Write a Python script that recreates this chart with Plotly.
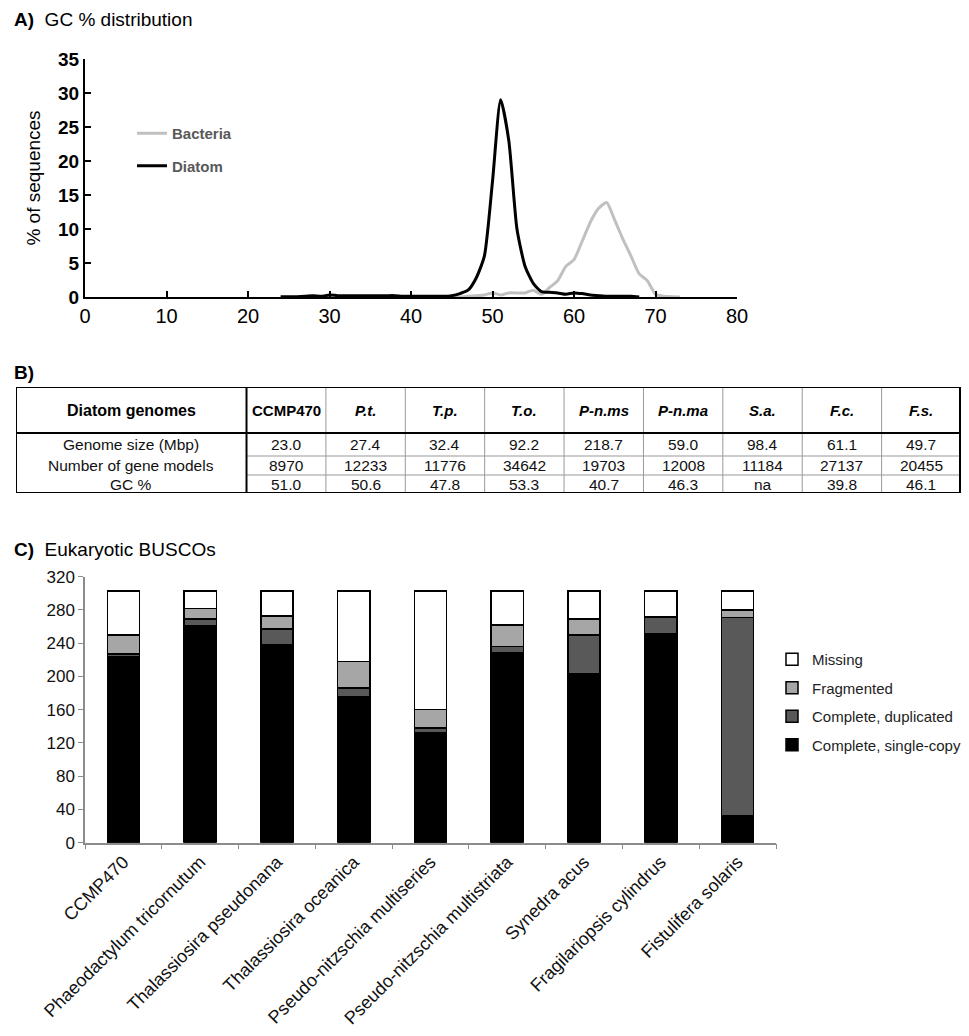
import plotly.graph_objects as go

# ---------------- Panel A data ----------------
diatom_gc = list(range(24, 69))
diatom_pct = [0.05, 0.05, 0.05, 0.1, 0.2, 0.1, 0.3, 0.2, 0.2, 0.2, 0.2, 0.2, 0.2, 0.2, 0.2,
              0.1, 0.1, 0.1, 0.1, 0.1, 0.1, 0.2, 0.5, 1.0, 2.8, 6.0, 17.0, 29.0, 23.0, 10.0,
              4.5, 2.0, 0.8, 0.7, 0.6, 0.4, 0.6, 0.5, 0.3, 0.2, 0.1, 0.1, 0.1, 0.1, 0.0]
bacteria_gc = list(range(45, 74))
bacteria_pct = [0.0, 0.0, 0.1, 0.2, 0.3, 0.6, 0.3, 0.6, 0.6, 0.6, 1.0, 0.4, 1.4, 2.4, 4.5,
                5.5, 8.2, 11.0, 13.0, 13.9, 11.3, 8.5, 6.0, 3.4, 2.4, 0.4, 0.1, 0.05, 0.0]

# ---------------- Panel B data ----------------
table_header = ["Diatom genomes", "CCMP470", "P.t.", "T.p.", "T.o.", "P-n.ms", "P-n.ma",
                "S.a.", "F.c.", "F.s."]
row_labels = ["Genome size (Mbp)", "Number of gene models", "GC %"]
genome_size = ["23.0", "27.4", "32.4", "92.2", "218.7", "59.0", "98.4", "61.1", "49.7"]
gene_models = ["8970", "12233", "11776", "34642", "19703", "12008", "11184", "27137", "20455"]
gc_percent = ["51.0", "50.6", "47.8", "53.3", "40.7", "46.3", "na", "39.8", "46.1"]

# ---------------- Panel C data ----------------
species = ["CCMP470", "Phaeodactylum tricornutum", "Thalassiosira pseudonana",
           "Thalassiosira oceanica", "Pseudo-nitzschia multiseries",
           "Pseudo-nitzschia multistriata", "Synedra acus", "Fragilariopsis cylindrus",
           "Fistulifera solaris"]
single_copy = [224, 261, 238, 176, 132, 229, 203, 251, 32]
duplicated = [3, 8, 19, 10, 6, 7, 47, 20, 239]
fragmented = [23, 13, 16, 32, 22, 26, 19, 1, 9]
missing = [53, 21, 30, 85, 143, 41, 34, 31, 23]

# page is 969x1036 and the html body has an 8px margin
OFF = 8
W, H = 969 - 2 * OFF, 1036 - 2 * OFF
FONT = "Arial, Liberation Sans, sans-serif"


def px(x):
    return min(1.0, max(0.0, (x - OFF) / W))


def py(y):
    return min(1.0, max(0.0, 1 - (y - OFF) / H))


fig = go.Figure()

# Panel A traces
fig.add_trace(go.Scatter(x=bacteria_gc, y=bacteria_pct, mode="lines", name="Bacteria",
                         line=dict(color="#c0c0c0", width=3, shape="spline", smoothing=0.6),
                         xaxis="x", yaxis="y", legend="legend2", legendgroup="b"))
fig.add_trace(go.Scatter(x=diatom_gc, y=diatom_pct, mode="lines", name="Diatom",
                         line=dict(color="#000000", width=3, shape="spline", smoothing=0.6),
                         xaxis="x", yaxis="y", legend="legend2", legendgroup="d"))

# Panel C traces
bar_series = [("Complete, single-copy", single_copy, "#000000", 4),
              ("Complete, duplicated", duplicated, "#595959", 3),
              ("Fragmented", fragmented, "#a6a6a6", 2),
              ("Missing", missing, "#ffffff", 1)]
for name, vals, col, rank in bar_series:
    fig.add_trace(go.Bar(x=species, y=vals, name=name,
                         marker=dict(color=col, line=dict(color="#000000", width=1.5)),
                         xaxis="x2", yaxis="y2", legend="legend", legendgroup=name,
                         legendrank=rank))

# dummy trace for table axes
fig.add_trace(go.Scatter(x=[], y=[], xaxis="x3", yaxis="y3", showlegend=False))

# ---------------- Table (panel B) ----------------
first_w = 231
col_w = (947 - first_w) / 9
head_h = 46
row_h = [23, 19, 18]
total_h = head_h + sum(row_h)
col_edges = [0, first_w] + [first_w + col_w * (i + 1) for i in range(9)]
row_edges = [0, head_h]
for h in row_h:
    row_edges.append(row_edges[-1] + h)

shapes = []
for xe in col_edges[2:-1]:
    shapes.append(dict(type="line", xref="x3", yref="y3", x0=xe, x1=xe, y0=0, y1=total_h,
                       line=dict(color="#999999", width=1)))
for ye in row_edges[2:-1]:
    shapes.append(dict(type="line", xref="x3", yref="y3", x0=first_w, x1=947, y0=ye, y1=ye,
                       line=dict(color="#999999", width=1)))
shapes.append(dict(type="line", xref="x3", yref="y3", x0=first_w, x1=first_w, y0=0, y1=total_h,
                   line=dict(color="#000000", width=2)))
shapes.append(dict(type="line", xref="x3", yref="y3", x0=0, x1=947, y0=head_h, y1=head_h,
                   line=dict(color="#000000", width=2)))
shapes.append(dict(type="rect", xref="x3", yref="y3", x0=0, x1=946, y0=0, y1=total_h,
                   line=dict(color="#000000", width=2)))

annotations = []
for i, h in enumerate(table_header):
    cx = (col_edges[i] + col_edges[i + 1]) / 2
    txt = f"<b>{h}</b>" if i <= 1 else f"<b><i>{h}</i></b>"
    annotations.append(dict(x=cx, y=head_h / 2, xref="x3", yref="y3", text=txt, showarrow=False,
                            font=dict(family=FONT, size=16 if i == 0 else 15, color="#000000")))
rows = [genome_size, gene_models, gc_percent]
for r, (lab, vals) in enumerate(zip(row_labels, rows)):
    cy = (row_edges[r + 1] + row_edges[r + 2]) / 2
    annotations.append(dict(x=first_w / 2, y=cy, xref="x3", yref="y3", text=lab, showarrow=False,
                            font=dict(family=FONT, size=15.5, color="#111111")))
    for c, v in enumerate(vals):
        cx = (col_edges[c + 1] + col_edges[c + 2]) / 2
        annotations.append(dict(x=cx, y=cy, xref="x3", yref="y3", text=v, showarrow=False,
                                font=dict(family=FONT, size=15.5, color="#111111")))

# Panel titles
annotations.append(dict(x=px(12), y=py(20), xref="paper", yref="paper", xanchor="left", yanchor="middle",
                        text="<b>A)</b>  GC % distribution", showarrow=False,
                        font=dict(family=FONT, size=19, color="#000000")))
annotations.append(dict(x=px(12), y=py(372), xref="paper", yref="paper", xanchor="left", yanchor="middle",
                        text="<b>B)</b>", showarrow=False, font=dict(family=FONT, size=19, color="#000000")))
annotations.append(dict(x=px(12), y=py(549), xref="paper", yref="paper", xanchor="left", yanchor="middle",
                        text="<b>C)</b>  Eukaryotic BUSCOs", showarrow=False,
                        font=dict(family=FONT, size=19, color="#000000")))

fig.update_layout(
    width=W, height=H, margin=dict(l=0, r=0, t=0, b=0, autoexpand=False),
    paper_bgcolor="white", plot_bgcolor="white",
    font=dict(family=FONT, color="#000000"),
    barmode="stack", bargap=0.58,
    shapes=shapes, annotations=annotations,
    xaxis=dict(domain=[px(85), px(737)], range=[0, 80], tickvals=list(range(0, 81, 10)),
               showline=True, linecolor="#000000", linewidth=2, ticks="inside", ticklen=6,
               tickwidth=2, tickcolor="#000000", showgrid=False, zeroline=False, automargin=False,
               tickfont=dict(family=FONT, size=20, color="#000000"), anchor="y"),
    yaxis=dict(domain=[py(297), py(59)], range=[0, 35], tickvals=list(range(0, 36, 5)),
               showline=True, linecolor="#000000", linewidth=2, ticks="inside", ticklen=6,
               tickwidth=2, tickcolor="#000000", showgrid=False, zeroline=False, automargin=False,
               tickfont=dict(family=FONT, size=19, color="#000000", weight="bold"),
               title=dict(text="% of sequences", font=dict(family=FONT, size=19), standoff=12),
               anchor="x"),
    xaxis2=dict(domain=[px(85), px(776)], showline=True, linecolor="#8c8c8c", linewidth=1.5,
                ticks="outside", tickson="boundaries", ticklen=5, tickcolor="#8c8c8c",
                showgrid=False, tickangle=-45, automargin=False,
                tickfont=dict(family=FONT, size=18, color="#111111"), anchor="y2"),
    yaxis2=dict(domain=[py(842.7), py(576.7)], range=[0, 320], tickvals=list(range(0, 321, 40)),
                showline=True, linecolor="#8c8c8c", linewidth=1.5, ticks="outside", ticklen=5,
                tickcolor="#8c8c8c", showgrid=False, zeroline=False, automargin=False,
                tickfont=dict(family=FONT, size=17, color="#111111"), anchor="x2"),
    xaxis3=dict(domain=[px(16), px(962)], range=[0, 947], visible=False, fixedrange=True,
                automargin=False, anchor="y3"),
    yaxis3=dict(domain=[py(493), py(387)], range=[total_h, 0], visible=False, fixedrange=True,
                automargin=False, anchor="x3"),
    legend=dict(x=px(772), y=py(702), xanchor="left", yanchor="middle", traceorder="grouped",
                tracegroupgap=6, font=dict(family=FONT, size=15, color="#222222"),
                bgcolor="rgba(0,0,0,0)"),
    legend2=dict(x=px(132), y=py(117), xanchor="left", yanchor="top", traceorder="grouped",
                 tracegroupgap=10, font=dict(family=FONT, size=15, color="#595959", weight="bold"),
                 bgcolor="rgba(0,0,0,0)"),
)

fig.write_html("out.html")
